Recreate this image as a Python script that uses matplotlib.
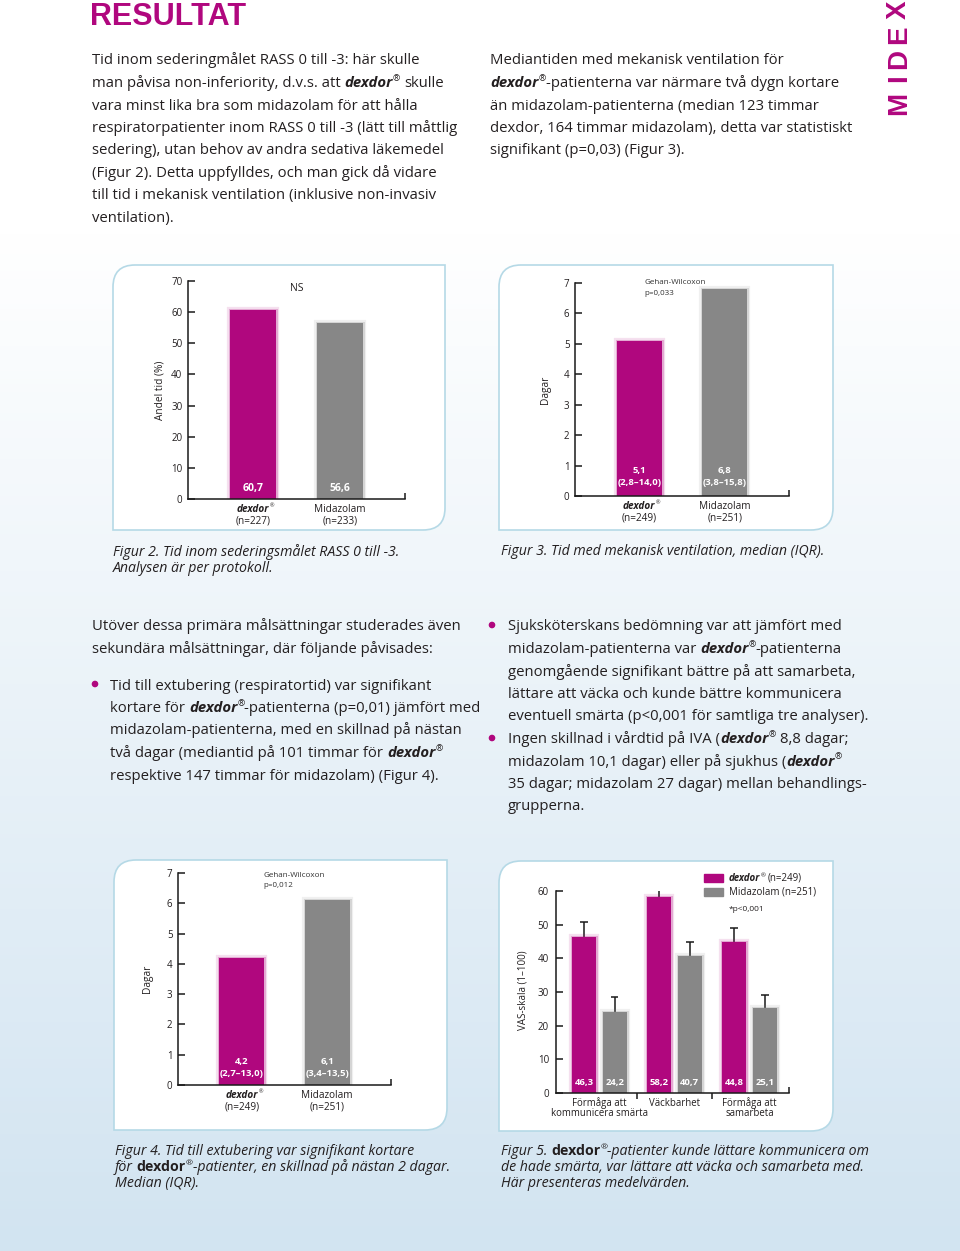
import numpy as np
import matplotlib
matplotlib.use('Agg')
from matplotlib import pyplot as plt
from matplotlib.path import Path
from matplotlib.patches import PathPatch, Rectangle, Circle
from matplotlib.colors import LinearSegmentedColormap

plt.rcParams['font.family'] = ['Open Sans', 'DejaVu Sans']

MAGENTA = '#b0077e'
GREY = '#878787'
TEXT = '#231f20'
BORDER = '#b5d9e6'

# ---- data ----
fig2_groups = ['dexdor', 'Midazolam']
fig2_n = ['(n=227)', '(n=233)']
fig2_values = [60.7, 56.6]
fig2_labels = ['60,7', '56,6']

fig3_groups = ['dexdor', 'Midazolam']
fig3_n = ['(n=249)', '(n=251)']
fig3_values = [5.1, 6.8]
fig3_labels = ['5,1', '6,8']
fig3_iqr = ['(2,8\u201314,0)', '(3,8\u201315,8)']

fig4_groups = ['dexdor', 'Midazolam']
fig4_n = ['(n=249)', '(n=251)']
fig4_values = [4.2, 6.1]
fig4_labels = ['4,2', '6,1']
fig4_iqr = ['(2,7\u201313,0)', '(3,4\u201313,5)']

fig5_categories = ['Förmåga att\nkommunicera smärta', 'Väckbarhet', 'Förmåga att\nsamarbeta']
fig5_dexdor = [46.3, 58.2, 44.8]
fig5_midazolam = [24.2, 40.7, 25.1]
fig5_dexdor_err = [4.6, 4.1, 4.3]
fig5_midazolam_err = [4.4, 4.2, 4.0]

W, H = 960, 1251
fig = plt.figure(figsize=(W / 100, H / 100), dpi=100)
page = fig.add_axes([0, 0, 1, 1])
page.set_xlim(0, W)
page.set_ylim(H, 0)
page.axis('off')

# background gradient
grad = np.clip((np.linspace(0, H, 300) - 230) / (H - 230), 0, 1)[:, None]
cmap = LinearSegmentedColormap.from_list('bg', ['#ffffff', '#d2e4f1'])
page.imshow(grad, cmap=cmap, extent=(0, W, H, 0), aspect='auto', zorder=0)

renderer = fig.canvas.get_renderer()

STYLES = {
    'n': dict(),
    'bi': dict(fontweight='bold', fontstyle='italic'),
    'i': dict(fontstyle='italic'),
    'b': dict(fontweight='bold'),
    'r': dict(),
}


def text_width(s, size, style):
    t = page.text(0, 0, s, fontsize=size, **STYLES[style])
    w = t.get_window_extent(renderer).width
    t.remove()
    return w


def para(x, y0, lines, size, step, color=TEXT, base='n'):
    # each line is a string or a list of (text, style) runs; y is the baseline
    sp = text_width('a a', size, base) - text_width('aa', size, base)
    for k, line in enumerate(lines):
        if isinstance(line, str):
            line = [(line, base)]
        y = y0 + k * step
        xx = x
        for s, st in line:
            lead = len(s) - len(s.lstrip(' '))
            trail = len(s) - len(s.rstrip(' '))
            xx += lead * sp
            core = s.strip(' ')
            if core:
                fs = size * 0.6 if st == 'r' else size
                dy = -size * 0.55 if st == 'r' else 0
                t = page.text(xx, y + dy, core, fontsize=fs, color=color, ha='left',
                              va='baseline', **STYLES[st])
                xx += t.get_window_extent(renderer).width
            xx += trail * sp


DX = [('dexdor', 'bi'), ('®', 'r')]

# ---- header ----
page.text(90, 25, 'RESULTAT', fontsize=22, fontweight='bold', color=MAGENTA,
          ha='left', va='baseline', family=['Liberation Sans', 'DejaVu Sans'])
for ch, yc in zip('XEDIM', [9.5, 35, 59, 78.5, 103.5]):
    page.text(899, yc, ch, fontsize=20, fontweight='bold', color=MAGENTA, rotation=90,
              ha='center', va='center', family=['Liberation Sans', 'DejaVu Sans'])

BODY = 10.7
STEP = 22.5
para(92, 64.5, [
    'Tid inom sederingmålet RASS 0 till -3: här skulle',
    [('man påvisa non-inferiority, d.v.s. att ', 'n')] + DX + [(' skulle', 'n')],
    'vara minst lika bra som midazolam för att hålla',
    'respiratorpatienter inom RASS 0 till -3 (lätt till måttlig',
    'sedering), utan behov av andra sedativa läkemedel',
    '(Figur 2). Detta uppfylldes, och man gick då vidare',
    'till tid i mekanisk ventilation (inklusive non-invasiv',
    'ventilation).',
], BODY, STEP)

para(490, 64.5, [
    'Mediantiden med mekanisk ventilation för',
    DX + [('-patienterna var närmare två dygn kortare', 'n')],
    'än midazolam-patienterna (median 123 timmar',
    'dexdor, 164 timmar midazolam), detta var statistiskt',
    'signifikant (p=0,03) (Figur 3).',
], BODY, STEP)

para(92, 630.5, [
    'Utöver dessa primära målsättningar studerades även',
    'sekundära målsättningar, där följande påvisades:',
], BODY, STEP)

para(110, 689.5, [
    'Tid till extubering (respiratortid) var signifikant',
    [('kortare för ', 'n')] + DX + [('-patienterna (p=0,01) jämfört med', 'n')],
    'midazolam-patienterna, med en skillnad på nästan',
    [('två dagar (mediantid på 101 timmar för ', 'n')] + DX,
    'respektive 147 timmar för midazolam) (Figur 4).',
], BODY, STEP)

para(508, 630.5, [
    'Sjuksköterskans bedömning var att jämfört med',
    [('midazolam-patienterna var ', 'n')] + DX + [('-patienterna', 'n')],
    'genomgående signifikant bättre på att samarbeta,',
    'lättare att väcka och kunde bättre kommunicera',
    'eventuell smärta (p<0,001 för samtliga tre analyser).',
    [('Ingen skillnad i vårdtid på IVA (', 'n')] + DX + [(' 8,8 dagar;', 'n')],
    [('midazolam 10,1 dagar) eller på sjukhus (', 'n')] + DX,
    '35 dagar; midazolam 27 dagar) mellan behandlings-',
    'grupperna.',
], BODY, STEP)

for bx, by in [(95, 684), (492, 625), (492, 738)]:
    page.add_patch(Circle((bx, by), 2.6, color=MAGENTA, zorder=3))

# captions
CAP = 10.2
CSTEP = 16
para(113, 556, ['Figur 2. Tid inom sederingsmålet RASS 0 till -3.',
                'Analysen är per protokoll.'], CAP, CSTEP, base='i')
para(501, 555, ['Figur 3. Tid med mekanisk ventilation, median (IQR).'], CAP, CSTEP, base='i')
para(115, 1155, ['Figur 4. Tid till extubering var signifikant kortare',
                 [('för ', 'i'), ('dexdor', 'b'), ('®', 'r'), ('-patienter, en skillnad på nästan 2 dagar.', 'i')],
                 'Median (IQR).'], CAP, CSTEP, base='i')
para(501, 1155, [[('Figur 5. ', 'i'), ('dexdor', 'b'), ('®', 'r'), ('-patienter kunde lättare kommunicera om', 'i')],
                 'de hade smärta, var lättare att väcka och samarbeta med.',
                 'Här presenteras medelvärden.'], CAP, CSTEP, base='i')


# ---- chart boxes ----
def leaf_box(x0, y0, x1, y1, r=22):
    verts = [(x0, y0 + r), (x0, y0), (x0 + r, y0), (x1, y0), (x1, y1 - r),
             (x1, y1), (x1 - r, y1), (x0, y1), (x0, y0 + r)]
    codes = [Path.MOVETO, Path.CURVE3, Path.CURVE3, Path.LINETO, Path.LINETO,
             Path.CURVE3, Path.CURVE3, Path.LINETO, Path.CLOSEPOLY]
    page.add_patch(PathPatch(Path(verts, codes), facecolor='white', edgecolor=BORDER,
                             linewidth=1.2, zorder=2))


leaf_box(113, 265, 445, 530)
leaf_box(499, 265, 833, 530)
leaf_box(114, 860, 447, 1130)
leaf_box(499, 861, 833, 1131)


def axes_px(l, t, r, b):
    ax = fig.add_axes([l / W, 1 - b / H, (r - l) / W, (b - t) / H])
    ax.patch.set_alpha(0)
    for s in ['top', 'right']:
        ax.spines[s].set_visible(False)
    for s in ['left', 'bottom']:
        ax.spines[s].set_linewidth(1.1)
        ax.spines[s].set_color('#1a1a1a')
        ax.spines[s].set_zorder(5)
    ax.tick_params(axis='y', direction='in', length=5, width=1.1, pad=4,
                   labelsize=7, labelcolor=TEXT, color='#1a1a1a')
    return ax


def glow_bars(ax, x, h, width, color):
    rgb = matplotlib.colors.to_rgb(color)
    # soft halo around the bars, then the solid bar
    for lw, a in [(4.5, 0.12), (2.2, 0.25)]:
        ax.bar(x, h, width=width, facecolor='none', edgecolor=rgb + (a,), linewidth=lw,
               zorder=2.5)
    ax.bar(x, h, width=width, color=color, linewidth=0, zorder=3)


def dexdor_label(ax, xpos, dy, size):
    t = ax.annotate('dexdor', xy=(xpos, 0), xycoords=('data', 'axes fraction'),
                    xytext=(0, dy), textcoords='offset pixels', ha='center', va='center',
                    fontsize=size, color=TEXT, fontweight='bold', fontstyle='italic')
    w = t.get_window_extent(renderer).width
    ax.annotate('®', xy=(xpos, 0), xycoords=('data', 'axes fraction'),
                xytext=(w / 2 + 2.5, dy + 3), textcoords='offset pixels', ha='center',
                va='center', fontsize=size * 0.55, color=TEXT)


def two_bar_chart(ax, groups, n, values, ymax, ylabel, label_coords):
    xmax = 1.75
    ax.set_xlim(-0.75, xmax)
    ax.set_ylim(0, ymax)
    glow_bars(ax, [0], [values[0]], 0.53, MAGENTA)
    glow_bars(ax, [1], [values[1]], 0.53, GREY)
    ax.set_xticks([xmax])
    ax.set_xticklabels([])
    ax.tick_params(axis='x', direction='in', length=4, width=1.1, color='#1a1a1a')
    ax.set_ylabel(ylabel, fontsize=7.3, color=TEXT, va='center')
    ax.yaxis.set_label_coords(*label_coords)
    dexdor_label(ax, 0, -10, 7.2)
    ax.annotate(groups[1], xy=(1, 0), xycoords=('data', 'axes fraction'), xytext=(0, -10),
                textcoords='offset pixels', ha='center', va='center', fontsize=7.2,
                color=TEXT)
    for i in range(2):
        ax.annotate(n[i], xy=(i, 0), xycoords=('data', 'axes fraction'), xytext=(0, -22),
                    textcoords='offset pixels', ha='center', va='center', fontsize=7.2,
                    color=TEXT)


# Figur 2
ax2 = axes_px(188, 281, 405, 499)
two_bar_chart(ax2, fig2_groups, fig2_n, fig2_values, 70, 'Andel tid (%)', (-0.13, 0.5))
ax2.set_yticks(range(0, 71, 10))
for i in range(2):
    ax2.text(i, 3.5, fig2_labels[i], ha='center', va='center', color='white',
             fontsize=7.5, fontweight='bold', zorder=4)
ax2.text(0.5, 67.5, 'NS', ha='center', va='center', fontsize=7.5, color=TEXT)

# Figur 3
ax3 = axes_px(575, 283, 789, 496)
two_bar_chart(ax3, fig3_groups, fig3_n, fig3_values, 7, 'Dagar', (-0.14, 0.5))
ax3.set_yticks(range(0, 8))
for i in range(2):
    ax3.text(i, 0.85, fig3_labels[i], ha='center', va='center', color='white',
             fontsize=6.8, fontweight='bold', zorder=4)
    ax3.text(i, 0.46, fig3_iqr[i], ha='center', va='center', color='white',
             fontsize=6.8, fontweight='bold', zorder=4)
ax3.text(0.06, 7.0, 'Gehan-Wilcoxon', ha='left', va='center', fontsize=5.8, color='#333333')
ax3.text(0.06, 6.67, 'p=0,033', ha='left', va='center', fontsize=5.8, color='#333333')

# Figur 4
ax4 = axes_px(178, 873, 391, 1085)
two_bar_chart(ax4, fig4_groups, fig4_n, fig4_values, 7, 'Dagar', (-0.142, 0.5))
ax4.set_yticks(range(0, 8))
for i in range(2):
    ax4.text(i, 0.76, fig4_labels[i], ha='center', va='center', color='white',
             fontsize=6.8, fontweight='bold', zorder=4)
    ax4.text(i, 0.39, fig4_iqr[i], ha='center', va='center', color='white',
             fontsize=6.8, fontweight='bold', zorder=4)
ax4.text(0.25, 6.92, 'Gehan-Wilcoxon', ha='left', va='center', fontsize=5.8, color='#333333')
ax4.text(0.25, 6.59, 'p=0,012', ha='left', va='center', fontsize=5.8, color='#333333')

# Figur 5
ax5 = axes_px(556, 891, 789, 1093)
x = np.arange(len(fig5_categories))
off, bw = 0.205, 0.325
ax5.set_xlim(-0.577, 2.527)
ax5.set_ylim(0, 60)
glow_bars(ax5, x - off, fig5_dexdor, bw, MAGENTA)
glow_bars(ax5, x + off, fig5_midazolam, bw, GREY)
for xs, vals, errs in [(x - off, fig5_dexdor, fig5_dexdor_err),
                       (x + off, fig5_midazolam, fig5_midazolam_err)]:
    tops = np.array(vals) + np.array(errs)
    ax5.vlines(xs, vals, tops, color='#1a1a1a', linewidth=1.1, zorder=2)
    ax5.hlines(tops, xs - 0.05, xs + 0.05, color='#1a1a1a', linewidth=1.1, zorder=2)
ax5.set_yticks(range(0, 61, 10))
ax5.tick_params(axis='y', pad=5)
ax5.set_xticks([0.5, 1.5])
ax5.set_xticklabels([])
ax5.tick_params(axis='x', direction='out', length=4, width=1.1, color='#1a1a1a')
ax5.set_xticks([2.527], minor=True)
ax5.tick_params(axis='x', which='minor', direction='in', length=4, width=1.1, color='#1a1a1a')
ax5.set_ylabel('VAS-skala (1\u2013100)', fontsize=7, color=TEXT, va='center')
ax5.yaxis.set_label_coords(-0.14, 0.51)
for i in range(3):
    ax5.text(x[i] - off, 3.2, f'{fig5_dexdor[i]:.1f}'.replace('.', ','), ha='center',
             va='center', color='white', fontsize=6.8, fontweight='bold', zorder=4)
    ax5.text(x[i] + off, 3.2, f'{fig5_midazolam[i]:.1f}'.replace('.', ','), ha='center',
             va='center', color='white', fontsize=6.8, fontweight='bold', zorder=4)
    for k, line in enumerate(fig5_categories[i].split('\n')):
        ax5.annotate(line, xy=(x[i], 0), xycoords=('data', 'axes fraction'),
                     xytext=(0, -10 - 10.5 * k), textcoords='offset pixels',
                     ha='center', va='center', fontsize=6.9, color=TEXT)

# legend (manual, page coordinates)
page.add_patch(Rectangle((704, 873.5), 19, 8.5, color=MAGENTA, zorder=3))
page.add_patch(Rectangle((704, 887.5), 19, 8.5, color=GREY, zorder=3))
para(729, 881, [[('dexdor', 'bi'), ('®', 'r'), (' (n=249)', 'n')],
                'Midazolam (n=251)'], 7, 14)
para(729, 911, ['*p<0,001'], 6, 14)

fig.savefig('out.png', dpi=100)
